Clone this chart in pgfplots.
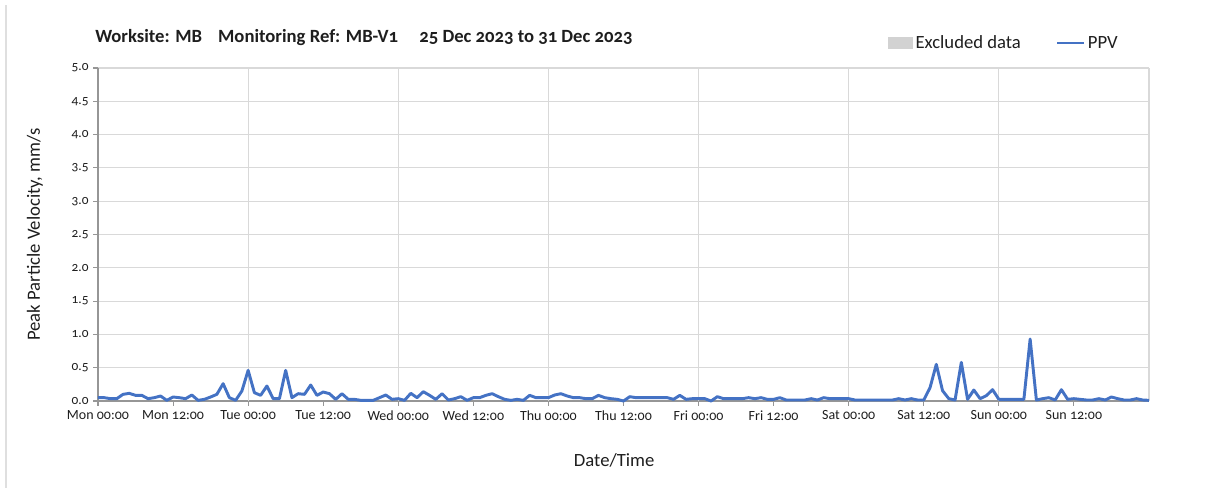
\documentclass[border=0pt]{standalone}
\usepackage{pgfplots}
\pgfplotsset{compat=1.18}
\usepackage{fontspec}
\setmainfont{Carlito}[Numbers=OldStyle]
\definecolor{ppv}{RGB}{68,114,196}
\definecolor{gridc}{RGB}{217,217,217}
\definecolor{axc}{RGB}{150,150,150}
\definecolor{txt}{RGB}{30,30,30}
\begin{document}
\begin{tikzpicture}
\path[use as bounding box] (-73.5pt,-66.75pt) rectangle (832.5pt,300.75pt);
\draw[gray!25, line width=0.8pt] (-69pt,-65pt) -- (-69pt,297pt);
\begin{axis}[
  at={(0pt,0pt)}, anchor=south west,
  scale only axis, width=788.25pt, height=249.75pt,
  xmin=0, xmax=168, ymin=0, ymax=5,
  clip=false,
  axis x line*=bottom, axis y line*=left,
  axis line style={axc, line width=0.8pt},
  xtick={0,12,...,156},
  xticklabels={Mon 00:00,Mon 12:00,Tue 00:00,Tue 12:00,Wed 00:00,Wed 12:00,Thu 00:00,Thu 12:00,Fri 00:00,Fri 12:00,Sat 00:00,Sat 12:00,Sun 00:00,Sun 12:00},
  ytick={0,0.5,...,5},
  yticklabels={0.0,0.5,1.0,1.5,2.0,2.5,3.0,3.5,4.0,4.5,5.0},
  extra x ticks={24,48,72,96,120,144,168},
  extra x tick labels={},
  extra x tick style={grid=major, major tick length=0pt},
  ymajorgrids,
  grid style={gridc, line width=0.8pt},
  tick align=outside,
  major tick length=3.5pt,
  tick style={axc, line width=0.8pt},
  x tick label style={font=\fontsize{10.5}{12}\selectfont, text=txt, yshift=0pt},
  y tick label style={font=\fontsize{10}{11}\selectfont, text=txt},
  xlabel={Date/Time}, ylabel={Peak Particle Velocity, mm/s},
  xlabel style={font=\fontsize{14}{16}\selectfont, text=txt, at={(axis description cs:0.5,-0.177)}, anchor=center, xshift=-7pt},
  ylabel style={font=\fontsize{14}{16}\selectfont, text=txt, at={(axis description cs:-0.06,0.5)}, anchor=center},
  legend style={draw=none, fill=none, legend columns=2, at={(0.7517,1.075)}, anchor=west,
    inner sep=0pt, font=\fontsize{14}{16}\selectfont, text=txt,
    nodes={inner xsep=2pt},
    /tikz/every even column/.append style={column sep=24pt}},
]
\addlegendimage{legend image code/.code={\fill[gray!35] (0pt,-4pt) rectangle (18pt,4pt);}}
\addlegendentry{Excluded data}
\addplot[ppv, line width=2.2pt, line join=round, no marks,
  legend image code/.code={\draw[ppv, line width=2.2pt] (0pt,0pt) -- (20pt,0pt);}] coordinates {
(0,0.05)(1,0.05)(2,0.035)(3,0.035)(4,0.10)(5,0.115)(6,0.085)(7,0.085)(8,0.035)(9,0.05)
(10,0.075)(11,0.01)(12,0.06)(13,0.05)(14,0.035)(15,0.09)(16,0.01)(17,0.025)(18,0.06)(19,0.10)
(20,0.26)(21,0.05)(22,0.01)(23,0.15)(24,0.46)(25,0.125)(26,0.085)(27,0.225)(28,0.035)(29,0.035)
(30,0.46)(31,0.05)(32,0.11)(33,0.10)(34,0.24)(35,0.085)(36,0.135)(37,0.11)(38,0.025)(39,0.11)
(40,0.025)(41,0.025)(42,0.01)(43,0.01)(44,0.01)(45,0.05)(46,0.09)(47,0.025)(48,0.035)(49,0.01)
(50,0.115)(51,0.05)(52,0.14)(53,0.085)(54,0.025)(55,0.11)(56,0.015)(57,0.035)(58,0.065)(59,0.01)
(60,0.05)(61,0.05)(62,0.085)(63,0.11)(64,0.065)(65,0.025)(66,0.01)(67,0.025)(68,0.01)(69,0.085)
(70,0.05)(71,0.05)(72,0.05)(73,0.09)(74,0.11)(75,0.075)(76,0.05)(77,0.05)(78,0.035)(79,0.035)
(80,0.085)(81,0.05)(82,0.035)(83,0.025)(84,0.0)(85,0.065)(86,0.05)(87,0.05)(88,0.05)(89,0.05)
(90,0.05)(91,0.05)(92,0.025)(93,0.085)(94,0.025)(95,0.035)(96,0.035)(97,0.035)(98,0.0)(99,0.065)
(100,0.035)(101,0.035)(102,0.035)(103,0.035)(104,0.05)(105,0.035)(106,0.05)(107,0.025)(108,0.025)(109,0.05)
(110,0.015)(111,0.015)(112,0.015)(113,0.015)(114,0.035)(115,0.015)(116,0.05)(117,0.035)(118,0.035)(119,0.035)
(120,0.035)(121,0.015)(122,0.015)(123,0.015)(124,0.015)(125,0.015)(126,0.015)(127,0.015)(128,0.035)(129,0.015)
(130,0.035)(131,0.015)(132,0.015)(133,0.2)(134,0.55)(135,0.155)(136,0.035)(137,0.015)(138,0.58)(139,0.025)
(140,0.165)(141,0.035)(142,0.08)(143,0.17)(144,0.025)(145,0.025)(146,0.025)(147,0.025)(148,0.025)(149,0.93)
(150,0.015)(151,0.035)(152,0.05)(153,0.015)(154,0.17)(155,0.025)(156,0.035)(157,0.025)(158,0.015)(159,0.015)
(160,0.035)(161,0.015)(162,0.06)(163,0.035)(164,0.015)(165,0.015)(166,0.035)(167,0.015)(168,0.01)
};
\addlegendentry{PPV}
\node[anchor=base west, font=\bfseries\fontsize{14}{16}\selectfont, text=txt, inner sep=0pt]
  at ([xshift=-2.25pt, yshift=19pt]rel axis cs:0,1) {Worksite: MB\hspace{12pt}Monitoring Ref: MB-V1\hspace{16pt}25 Dec 2023 to 31 Dec 2023};
\end{axis}
\end{tikzpicture}
\end{document}
